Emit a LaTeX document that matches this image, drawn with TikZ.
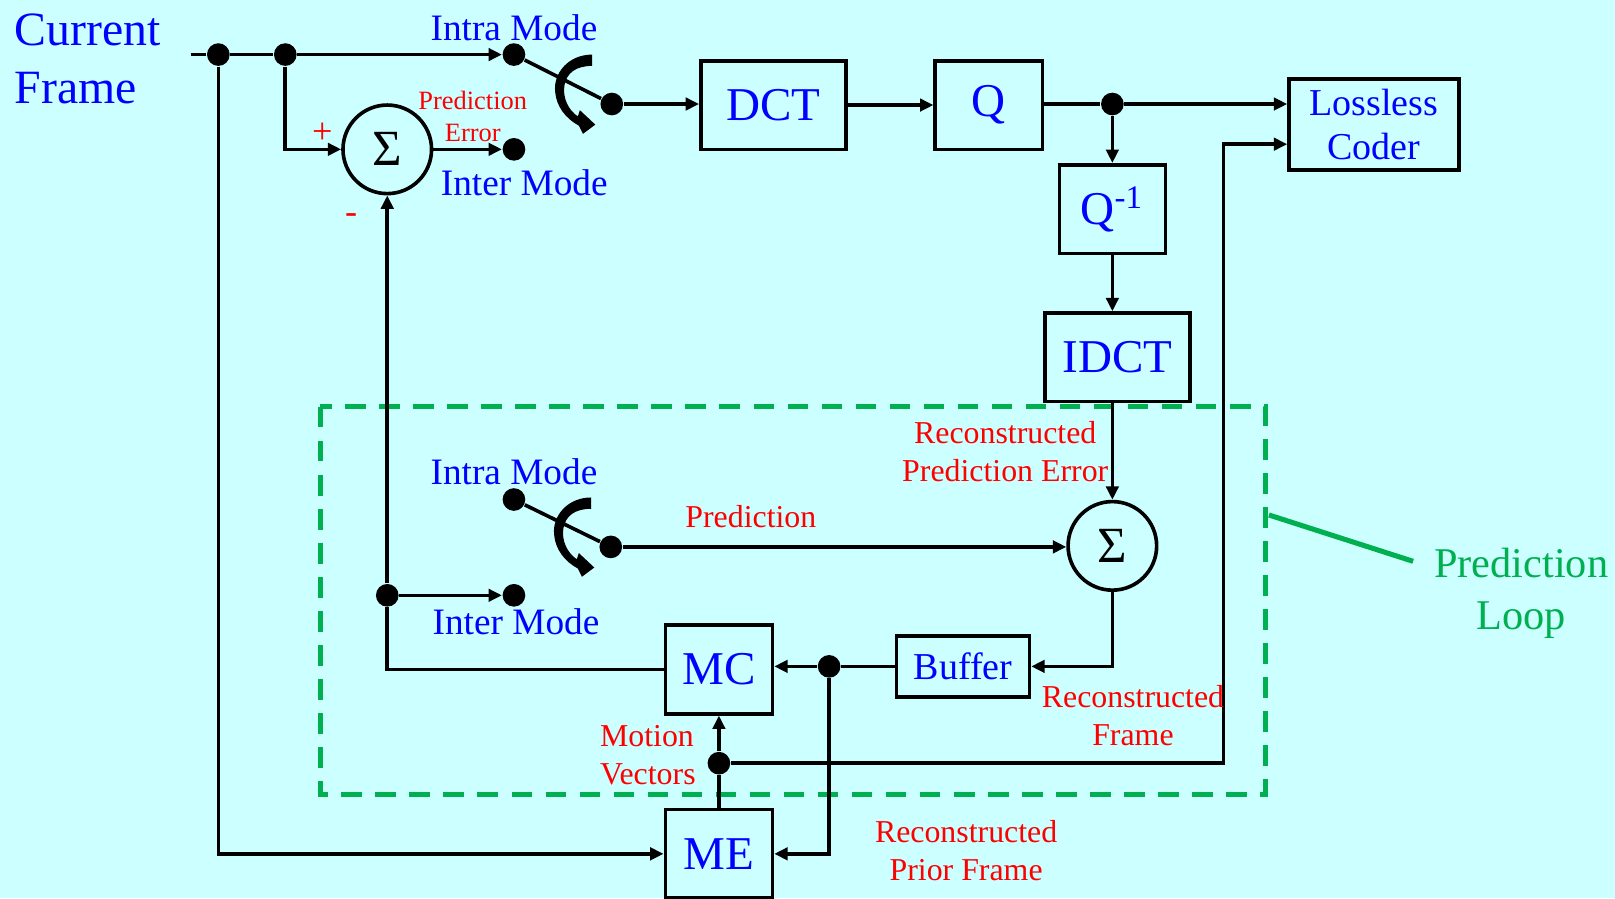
\documentclass[tikz,border=0pt]{standalone}
\usepackage{fontspec}
\setmainfont{Liberation Serif}
\usetikzlibrary{arrows.meta}
\definecolor{slidebg}{HTML}{CCFFFF}
\definecolor{labelblue}{HTML}{0000FF}
\definecolor{labelred}{HTML}{FF0000}
\definecolor{loopgreen}{HTML}{00B050}

\begin{document}
\begin{tikzpicture}[x=0.1mm, y=-0.1mm, >={Triangle[length=1.3mm, width=1.2mm]},
    box/.style={draw=black, line width=1pt, text=labelblue, inner sep=0pt,
                font=\fontsize{13}{15}\selectfont},
    sum/.style={circle, draw=black, line width=1pt, minimum size=8.6mm, inner sep=0pt,
                font=\fontsize{14}{16}\selectfont},
    dot/.style={circle, fill=black, inner sep=0pt, minimum size=2.2mm},
    wire/.style={line width=1pt},
    flow/.style={line width=1pt, ->},
    bluetext/.style={text=labelblue, font=\fontsize{10.3}{12}\selectfont},
    redtext/.style={text=labelred, align=center, font=\fontsize{8.8}{10.5}\selectfont},
    modeturn/.pic={
      \fill[black] (-19,-48) .. controls (-42,-48) and (-57,-30) .. (-55,-12)
        .. controls (-54,2) and (-45,14) .. (-32,21)
        -- (-28,29) -- (-16,20) -- (-31,6) -- (-33,12)
        .. controls (-42,6) and (-48,-6) .. (-46,-18)
        .. controls (-44,-30) and (-35,-37) .. (-19,-37) -- cycle;
    }]

  %% slide background
  \useasboundingbox (0,0) rectangle (1568,872);
  \fill[slidebg] (0,0) rectangle (1568,872);

  %% prediction loop frame
  \draw[loopgreen, line width=1.4pt, dash pattern=on 5.7pt off 3.7pt]
    (311,395) rectangle (1229,771);
  \draw[loopgreen, line width=1.4pt] (1232,500) -- (1372,545);
  \node[text=loopgreen, align=center, font=\fontsize{11.7}{14.2}\selectfont]
    (looplbl) at (1477,576) {Prediction\\Loop};

  %% blocks
  \node[box, minimum width=14.1mm, minimum height=8.6mm] (dct) at (751,102) {DCT};
  \node[box, minimum width=10.4mm, minimum height=8.6mm] (q) at (960,102) {Q};
  \node[box, minimum width=16.5mm, minimum height=8.8mm, align=center,
        font=\fontsize{10.5}{12}\selectfont] (coder) at (1334,121) {Lossless\\Coder};
  \node[box, minimum width=10.3mm, minimum height=8.6mm] (qinv) at (1080,203) {Q\textsuperscript{-1}};
  \node[box, minimum width=14.1mm, minimum height=8.6mm] (idct) at (1085,347) {IDCT};
  \node[box, minimum width=12.9mm, minimum height=5.9mm,
        font=\fontsize{10.5}{12}\selectfont] (buffer) at (935,647) {Buffer};
  \node[box, minimum width=10.4mm, minimum height=8.6mm] (mc) at (698,650) {MC};
  \node[box, minimum width=10.4mm, minimum height=8.6mm] (me) at (698,829) {ME};

  %% adders
  \node[sum] (sum1) at (376,145) {Σ};
  \node[sum] (sum2) at (1080,530) {Σ};

  %% junctions and switch contacts
  \coordinate (cin) at (185,53);
  \node[dot] (d1) at (212,53) {};
  \node[dot] (d2) at (277,53) {};
  \node[dot] (intra1) at (499,53) {};
  \node[dot] (inter1) at (499,145) {};
  \node[dot] (sw1) at (594,101) {};
  \node[dot] (dq) at (1080,101) {};
  \node[dot] (intra2) at (499,485) {};
  \node[dot] (sw2) at (593,531) {};
  \node[dot] (dfb) at (376,578) {};
  \node[dot] (inter2) at (499,578) {};
  \node[dot] (dbuf) at (805,647) {};
  \node[dot] (dmv) at (698,741) {};
  \coordinate (mvup) at (1188,140);

  %% mode switches
  \draw[wire] (intra1) -- (sw1);
  \pic at (sw1) {modeturn};
  \draw[wire] (intra2) -- (sw2);
  \pic at (sw2) {modeturn};

  %% forward path
  \draw[wire] (cin) -- (d1) -- (d2);
  \draw[flow] (d2) -- (intra1);
  \draw[flow] (d2) |- (sum1.west);
  \draw[flow] (sum1) -- (inter1);
  \draw[flow] (sw1) -- (sw1 -| dct.west);
  \draw[flow] (dct) -- (q);
  \draw[wire] (q.east |- dq) -- (dq);
  \draw[flow] (dq) -- (dq -| coder.west);
  \draw[flow] (dq) -- (qinv);
  \draw[flow] (qinv) -- (qinv.south |- idct.north);
  \draw[flow] (sum2 |- idct.south) -- (sum2);

  %% loop
  \draw[flow] (sw2) -- (sw2 -| sum2.west);
  \draw[flow] (sum2) |- (buffer.east);
  \draw[wire] (buffer) -- (dbuf);
  \draw[flow] (dbuf) -- (dbuf -| mc.east);
  \draw[flow] (dbuf) |- (me.east);
  \draw[flow] (d1) |- (me.west);
  \draw[wire] (me) -- (dmv);
  \draw[flow] (dmv) -- (mc);
  \draw[flow] (dmv) -| (mvup) -- (mvup -| coder.west);
  \draw[wire] (dfb) |- (mc.west);
  \draw[flow] (dfb) -- (sum1);
  \draw[flow] (dfb) -- (inter2);

  %% labels
  \node[bluetext, align=left, anchor=west, font=\fontsize{13.2}{16}\selectfont]
    (curlbl) at (2,57) {Current\\Frame};
  \node[bluetext] (intra1lbl) at (499,27) {Intra Mode};
  \node[bluetext] (inter1lbl) at (509,177) {Inter Mode};
  \node[bluetext] (intra2lbl) at (499,458) {Intra Mode};
  \node[bluetext] (inter2lbl) at (501,604) {Inter Mode};
  \node[redtext, font=\fontsize{7.3}{8.8}\selectfont] (perrlbl) at (459,113) {Prediction\\Error};
  \node[redtext, font=\fontsize{10}{12}\selectfont] (pluslbl) at (313,129) {+};
  \node[redtext, font=\fontsize{10}{12}\selectfont] (minuslbl) at (341,212) {-};
  \node[redtext] (predlbl) at (729,502) {Prediction};
  \node[redtext] (rpelbl) at (976,438) {Reconstructed\\Prediction Error};
  \node[redtext] (rflbl) at (1100,695) {Reconstructed\\Frame};
  \node[redtext, align=left] (mvlbl) at (629,733) {Motion\\Vectors};
  \node[redtext] (rpflbl) at (938,826) {Reconstructed\\Prior Frame};

\end{tikzpicture}
\end{document}
